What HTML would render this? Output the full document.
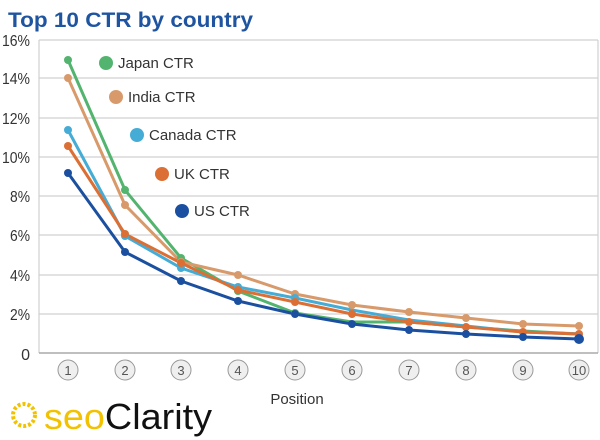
<!DOCTYPE html>
<html><head><meta charset="utf-8"><style>body{margin:0;background:#fff}svg{display:block}text{font-family:"Liberation Sans",sans-serif}</style></head><body>
<svg width="600" height="440" viewBox="0 0 600 440">
<text x="8" y="27" font-size="21" font-weight="bold" fill="#1f55a0" textLength="245" lengthAdjust="spacingAndGlyphs">Top 10 CTR by country</text>
<g stroke="#d0d0d0" stroke-width="1.2">
<line x1="39" y1="40" x2="598" y2="40"/><line x1="39" y1="78" x2="598" y2="78"/><line x1="39" y1="118" x2="598" y2="118"/><line x1="39" y1="157" x2="598" y2="157"/><line x1="39" y1="196" x2="598" y2="196"/><line x1="39" y1="235" x2="598" y2="235"/><line x1="39" y1="275" x2="598" y2="275"/><line x1="39" y1="314" x2="598" y2="314"/>
<line x1="39" y1="40" x2="39" y2="353"/><line x1="598" y1="40" x2="598" y2="353"/></g>
<line x1="39" y1="353" x2="598" y2="353" stroke="#aaa" stroke-width="1.5"/>
<g font-size="16" fill="#333" text-anchor="end">
<text x="30" y="46" textLength="28" lengthAdjust="spacingAndGlyphs">16%</text><text x="30" y="84" textLength="28" lengthAdjust="spacingAndGlyphs">14%</text><text x="30" y="124" textLength="28" lengthAdjust="spacingAndGlyphs">12%</text><text x="30" y="163" textLength="28" lengthAdjust="spacingAndGlyphs">10%</text><text x="30" y="202" textLength="20" lengthAdjust="spacingAndGlyphs">8%</text><text x="30" y="241" textLength="20" lengthAdjust="spacingAndGlyphs">6%</text><text x="30" y="281" textLength="20" lengthAdjust="spacingAndGlyphs">4%</text><text x="30" y="320" textLength="20" lengthAdjust="spacingAndGlyphs">2%</text><text x="30" y="360">0</text></g>
<g fill="#efefef" stroke="#999" stroke-width="1">
<circle cx="68" cy="370" r="10"/><circle cx="125" cy="370" r="10"/><circle cx="181" cy="370" r="10"/><circle cx="238" cy="370" r="10"/><circle cx="295" cy="370" r="10"/><circle cx="352" cy="370" r="10"/><circle cx="409" cy="370" r="10"/><circle cx="466" cy="370" r="10"/><circle cx="523" cy="370" r="10"/><circle cx="579" cy="370" r="10"/></g>
<g font-size="13" fill="#555" text-anchor="middle">
<text x="68" y="375">1</text><text x="125" y="375">2</text><text x="181" y="375">3</text><text x="238" y="375">4</text><text x="295" y="375">5</text><text x="352" y="375">6</text><text x="409" y="375">7</text><text x="466" y="375">8</text><text x="523" y="375">9</text><text x="579" y="375">10</text></g>
<text x="297" y="404" font-size="15" fill="#333" text-anchor="middle">Position</text>
<g fill="none" stroke-width="3">
<polyline stroke="#52b46e" points="68,60 125,190 181,258 238,291 295,313 352,322 409,322 466,327 523,331 579,334"/>
<polyline stroke="#d89a6a" points="68,78 125,205 181,262 238,275 295,294 352,305 409,312 466,318 523,324 579,326"/>
<polyline stroke="#45acd6" points="68,130 125,236 181,268 238,287 295,298 352,310 409,320 466,326 523,332 579,334"/>
<polyline stroke="#dc6f34" points="68,146 125,234 181,263 238,290 295,302 352,314 409,322 466,327 523,332 579,334"/>
<polyline stroke="#1b50a0" points="68,173 125,252 181,281 238,301 295,314 352,324 409,330 466,334 523,337 579,339"/>
</g>
<g fill="#52b46e"><circle cx="68" cy="60" r="4"/><circle cx="125" cy="190" r="4"/><circle cx="181" cy="258" r="4"/><circle cx="238" cy="291" r="4"/><circle cx="295" cy="313" r="4"/><circle cx="106" cy="63" r="7"/></g>
<g fill="#d89a6a"><circle cx="68" cy="78" r="4"/><circle cx="125" cy="205" r="4"/><circle cx="181" cy="262" r="4"/><circle cx="238" cy="275" r="4"/><circle cx="295" cy="294" r="4"/><circle cx="352" cy="305" r="4"/><circle cx="409" cy="312" r="4"/><circle cx="466" cy="318" r="4"/><circle cx="523" cy="324" r="4"/><circle cx="579" cy="326" r="4"/><circle cx="116" cy="97" r="7"/></g>
<g fill="#45acd6"><circle cx="68" cy="130" r="4"/><circle cx="125" cy="236" r="4"/><circle cx="181" cy="268" r="4"/><circle cx="238" cy="287" r="4"/><circle cx="295" cy="298" r="4"/><circle cx="137" cy="135" r="7"/></g>
<g fill="#dc6f34"><circle cx="68" cy="146" r="4"/><circle cx="125" cy="234" r="4"/><circle cx="181" cy="263" r="4"/><circle cx="238" cy="290" r="4"/><circle cx="295" cy="302" r="4"/><circle cx="352" cy="314" r="4"/><circle cx="409" cy="322" r="4"/><circle cx="466" cy="327" r="4"/><circle cx="523" cy="332" r="4"/><circle cx="579" cy="334" r="4"/><circle cx="162" cy="174" r="7"/></g>
<g fill="#1b50a0"><circle cx="68" cy="173" r="4"/><circle cx="125" cy="252" r="4"/><circle cx="181" cy="281" r="4"/><circle cx="238" cy="301" r="4"/><circle cx="295" cy="314" r="4"/><circle cx="352" cy="324" r="4"/><circle cx="409" cy="330" r="4"/><circle cx="466" cy="334" r="4"/><circle cx="523" cy="337" r="4"/><circle cx="579" cy="339" r="5"/><circle cx="182" cy="211" r="7"/></g>
<g font-size="15" fill="#333">
<text x="118" y="68">Japan CTR</text><text x="128" y="102">India CTR</text><text x="149" y="140">Canada CTR</text><text x="174" y="179">UK CTR</text><text x="194" y="216">US CTR</text></g>
<circle cx="24" cy="415" r="11" fill="none" stroke="#f2c200" stroke-width="4" stroke-dasharray="3 2"/>
<text x="44" y="429" font-size="36" fill="#f2c200" textLength="168" lengthAdjust="spacingAndGlyphs">seo<tspan fill="#111">Clarity</tspan></text>
</svg></body></html>
